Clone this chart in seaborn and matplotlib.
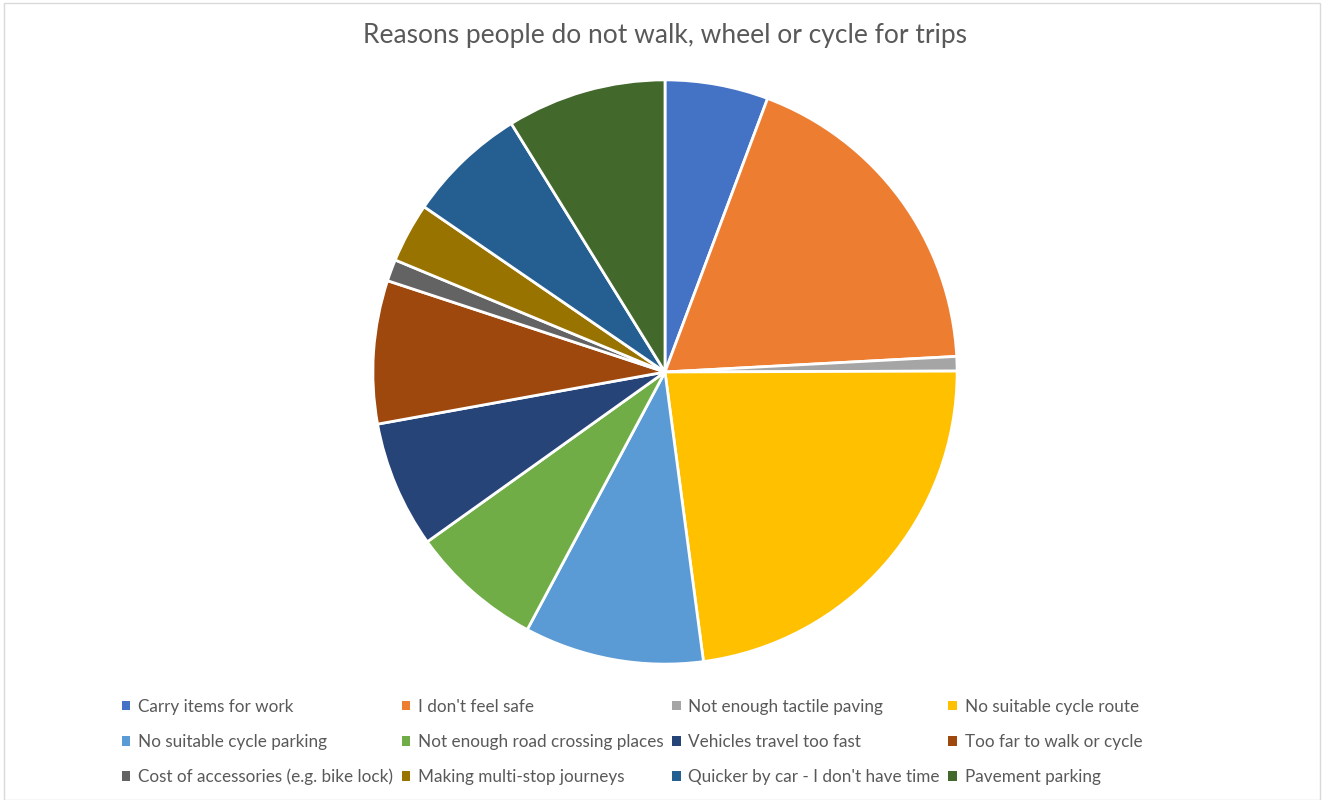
import numpy as np
import seaborn as sns
import matplotlib.pyplot as plt
from matplotlib.patches import Rectangle

categories = ["Carry items for work", "I don't feel safe", "Not enough tactile paving",
              "No suitable cycle route", "No suitable cycle parking",
              "Not enough road crossing places", "Vehicles travel too fast",
              "Too far to walk or cycle", "Cost of accessories (e.g. bike lock)",
              "Making multi-stop journeys", "Quicker by car - I don't have time",
              "Pavement parking"]
shares = [5.7, 18.4, 0.8, 22.9, 9.9, 7.3, 7.0, 7.9, 1.2, 3.3, 6.6, 8.8]
colours = ["#4472C4", "#ED7D31", "#A5A5A5", "#FFC000", "#5B9BD5", "#70AD47",
           "#264478", "#9E480E", "#636363", "#997300", "#255E91", "#43682B"]

sns.set_theme(style="white")
plt.rcParams['font.family'] = ['Lato', 'DejaVu Sans']
pal = sns.color_palette(colours)

fig = plt.figure(figsize=(13.27, 8), dpi=100)
ax = fig.add_axes([(665 - 293) / 1327, (800 - 372 - 293) / 800, 586 / 1327, 586 / 800])
wedges, _ = ax.pie(shares, colors=pal, startangle=90, counterclock=False,
                   wedgeprops=dict(edgecolor='white', linewidth=2))
ax.set_xlim(-1.003, 1.003)
ax.set_ylim(-1.003, 1.003)
ax.axis('off')

fig.text(665 / 1327, 1 - 36 / 800, "Reasons people do not walk, wheel or cycle for trips",
         ha='center', va='center', fontsize=19, color='#595959')

# legend laid out row by row like the original
order = [0, 4, 8, 1, 5, 9, 2, 6, 10, 3, 7, 11]
leg = fig.legend([wedges[i] for i in order], [categories[i] for i in order],
                 ncol=4, loc='center', bbox_to_anchor=(632 / 1327, 1 - 742 / 800),
                 frameon=False, fontsize=12.3, handlelength=0.5, handleheight=0.5,
                 handletextpad=0.45, columnspacing=0.5, labelspacing=1.12,
                 labelcolor='#595959')
for h in leg.legend_handles:
    h.set_edgecolor('none')

fig.patches.append(Rectangle((4 / 1327, 0), 1316 / 1327, 1 - 3 / 800, transform=fig.transFigure,
                             fill=False, edgecolor='#D9D9D9', linewidth=1))

fig.savefig('out.png', dpi=100)
